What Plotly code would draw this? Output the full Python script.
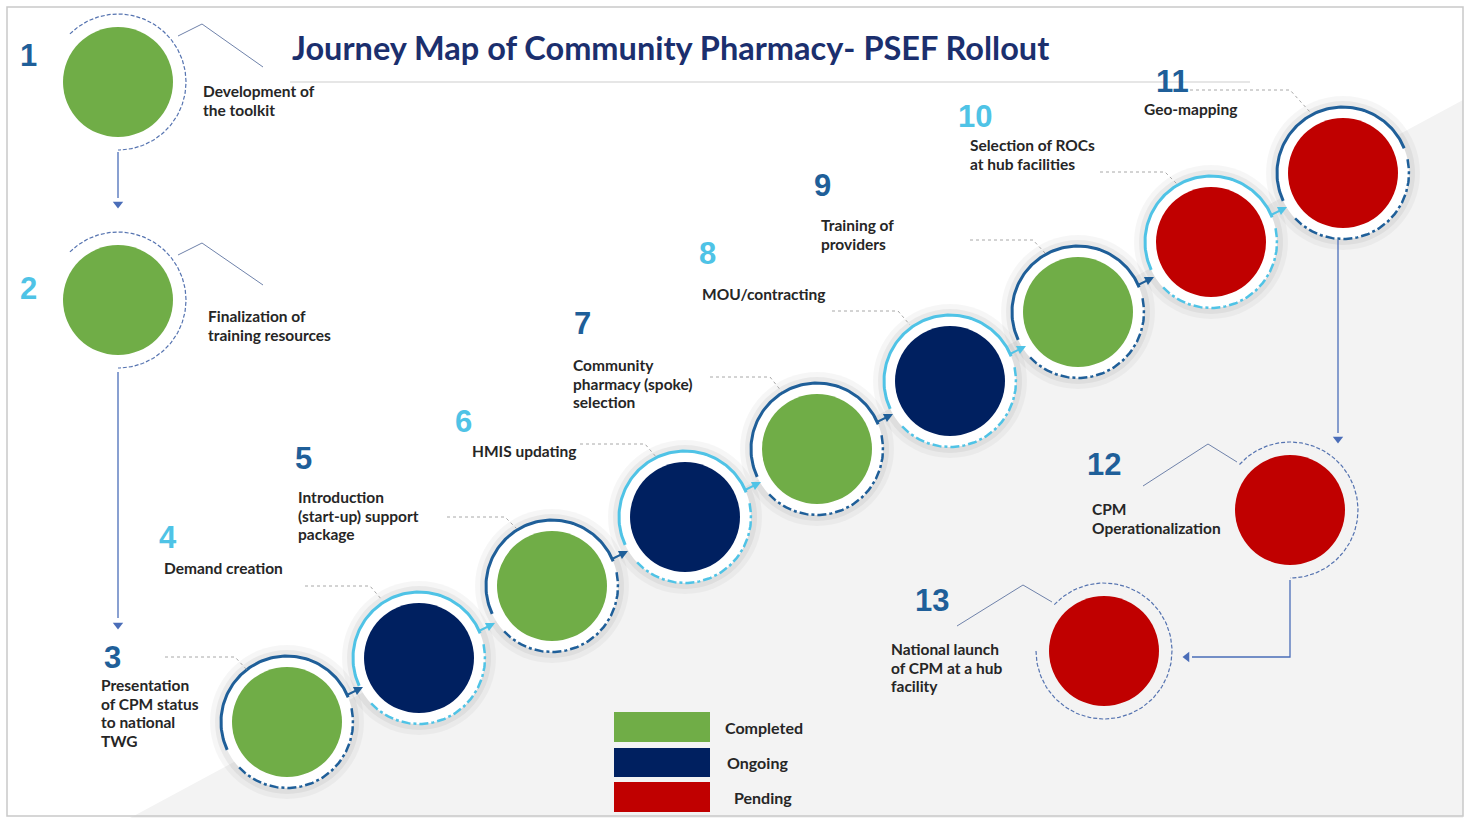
import numpy as np
import plotly.graph_objects as go

# ---------------- data ----------------
steps = [1, 2, 3, 4, 5, 6, 7, 8, 9, 10, 11, 12, 13]
step_labels = [
    "Development of<br>the toolkit",
    "Finalization of<br>training resources",
    "Presentation<br>of CPM status<br>to national<br>TWG",
    "Demand creation",
    "Introduction<br>(start-up) support<br>package",
    "HMIS updating",
    "Community<br>pharmacy (spoke)<br>selection",
    "MOU/contracting",
    "Training of<br>providers",
    "Selection of ROCs<br>at hub facilities",
    "Geo-mapping",
    "CPM<br>Operationalization",
    "National launch<br>of CPM at a hub<br>facility",
]
step_status = ["Completed", "Completed", "Completed", "Ongoing", "Completed", "Ongoing",
               "Completed", "Ongoing", "Completed", "Pending", "Pending", "Pending", "Pending"]
status_names = ["Completed", "Ongoing", "Pending"]
title_text = "Journey Map of Community Pharmacy- PSEF Rollout"

# ---------------- layout / style ----------------
W, H = 1467, 818
STATUS_COLOR = {"Completed": "#70AD47", "Ongoing": "#002060", "Pending": "#C00000"}
DARK = "#1F5F99"
LIGHT = "#4FC3E6"
node_x = [118, 118, 287, 419, 552, 685, 817, 950, 1078, 1211, 1343, 1290, 1104]
node_y = [82, 300, 722, 658, 586, 517, 449, 381, 312, 242, 173, 510, 651]
num_pos = [(28, 55), (28, 288), (112, 657), (168, 537), (303, 458), (463, 421), (582, 323),
           (707, 253), (822, 185), (975, 116), (1172, 81), (1104, 464), (932, 600)]
num_col = [DARK, LIGHT, DARK, LIGHT, DARK, LIGHT, DARK, LIGHT, DARK, LIGHT, DARK, DARK, DARK]
label_pos = [(202, 91), (207, 316), (100, 685), (163, 568), (297, 497), (471, 451), (572, 365),
             (701, 294), (820, 225), (969, 145), (1143, 109), (1091, 509), (890, 649)]
LINE_H = 18.5
leaders = [
    [(178, 36), (202, 24), (263, 67)],
    [(178, 255), (202, 243), (263, 285)],
    [(165, 657), (235, 657), (248, 671)],
    [(305, 586), (370, 586), (382, 600)],
    [(447, 517), (505, 517), (518, 530)],
    [(580, 444), (645, 444), (657, 458)],
    [(710, 377), (770, 377), (782, 392)],
    [(832, 311), (898, 311), (910, 325)],
    [(970, 240), (1033, 240), (1045, 253)],
    [(1100, 172), (1165, 172), (1178, 185)],
    [(1190, 90), (1290, 90), (1310, 112)],
    [(1143, 486), (1208, 444), (1237, 462)],
    [(957, 626), (1023, 585), (1052, 602)],
]
DIAG = list(range(2, 11))
R_CIRCLE = 55
R_RING = 66


def arc(cx, cy, r, a0, a1, n=90):
    t = np.radians(np.linspace(a0, a1, n))
    return cx + r * np.cos(t), cy - r * np.sin(t)


fig = go.Figure()
shapes = []
annotations = []

# background: frame + grey diagonal area
shapes.append(dict(type="path", path="M 130 818 L 1463 100 L 1463 818 Z",
                   fillcolor="#F3F3F3", line=dict(width=0), layer="below"))
shapes.append(dict(type="rect", x0=7, y0=7, x1=1463, y1=816,
                   line=dict(color="#C9C9C9", width=1.5), layer="above"))
shapes.append(dict(type="line", x0=290, y0=82, x1=1250, y1=82,
                   line=dict(color="#E6E6E6", width=2), layer="below"))

# glow + white halo for the diagonal circles
dx = [node_x[i] for i in DIAG]
dy = [node_y[i] for i in DIAG]
fig.add_trace(go.Scatter(x=dx, y=dy, mode="markers", hoverinfo="skip", showlegend=False,
                         marker=dict(size=154, color="rgba(0,0,0,0.035)", line=dict(width=0))))
fig.add_trace(go.Scatter(x=dx, y=dy, mode="markers", hoverinfo="skip", showlegend=False,
                         marker=dict(size=144, color="rgba(0,0,0,0.05)", line=dict(width=0))))
fig.add_trace(go.Scatter(x=dx, y=dy, mode="markers", hoverinfo="skip", showlegend=False,
                         marker=dict(size=132, color="white", line=dict(width=0))))

# rings of diagonal circles
for k, i in enumerate(DIAG):
    cx, cy = node_x[i], node_y[i]
    col = DARK if k % 2 == 0 else LIGHT
    ax_, ay_ = arc(cx, cy, R_RING, 205, 22)
    fig.add_trace(go.Scatter(x=ax_, y=ay_, mode="lines", hoverinfo="skip", showlegend=False,
                             line=dict(color=col, width=3)))
    bx, by = arc(cx, cy, R_RING, 12, -138)
    fig.add_trace(go.Scatter(x=bx, y=by, mode="lines", hoverinfo="skip", showlegend=False,
                             line=dict(color=col, width=2.5, dash="dashdot")))
    if i < 10:
        annotations.append(dict(x=cx + 76, y=cy - 35, ax=cx + 58, ay=cy - 26,
                                xref="x", yref="y", axref="x", ayref="y", text="",
                                showarrow=True, arrowhead=2, arrowsize=0.9,
                                arrowwidth=2, arrowcolor=col))

# thin rings of circles 1, 2, 12, 13
thin = {0: (135, -90), 1: (135, -90), 11: (138, -90), 12: (137, -180)}
for i, (a0, a1) in thin.items():
    tx, ty = arc(node_x[i], node_y[i], 68, a0, a1, 140)
    fig.add_trace(go.Scatter(x=tx, y=ty, mode="lines", hoverinfo="skip", showlegend=False,
                             line=dict(color="#5573B0", width=1.2, dash="4px,2px")))

# flow arrows
flows = [
    ([118, 118], [152, 198]),
    ([118, 118], [372, 618]),
    ([1338, 1338], [240, 433]),
    ([1290, 1290, 1192], [580, 657, 657]),
]
for fx, fy in flows:
    fig.add_trace(go.Scatter(x=fx, y=fy, mode="lines", hoverinfo="skip", showlegend=False,
                             line=dict(color="#4A6DB8", width=1.3)))
fig.add_trace(go.Scatter(x=[118, 118, 1338], y=[204, 625, 439], mode="markers",
                         hoverinfo="skip", showlegend=False,
                         marker=dict(symbol="triangle-down", size=9, color="#4A6DB8")))
fig.add_trace(go.Scatter(x=[1187], y=[657], mode="markers", hoverinfo="skip", showlegend=False,
                         marker=dict(symbol="triangle-left", size=9, color="#4A6DB8")))

# leader lines
for i, pts in enumerate(leaders):
    lx = [p[0] for p in pts]
    ly = [p[1] for p in pts]
    thin_one = i in (0, 1, 11, 12)
    fig.add_trace(go.Scatter(x=lx, y=ly, mode="lines", hoverinfo="skip", showlegend=False,
                             line=dict(color="#6F82AA" if thin_one else "#A8A8A8",
                                       width=1.0, dash="solid" if thin_one else "dot")))

# status circles
for s in status_names:
    idx = [i for i, st in enumerate(step_status) if st == s]
    fig.add_trace(go.Scatter(
        x=[node_x[i] for i in idx], y=[node_y[i] for i in idx], mode="markers",
        name=s, showlegend=False,
        text=[f"{steps[i]}. {step_labels[i].replace('<br>', ' ')}" for i in idx],
        hoverinfo="text",
        marker=dict(size=2 * R_CIRCLE, color=STATUS_COLOR[s], line=dict(width=0))))

# step numbers
for i, n in enumerate(steps):
    annotations.append(dict(x=num_pos[i][0], y=num_pos[i][1], xref="x", yref="y",
                            text=f"<b>{n}</b>", showarrow=False, xanchor="center", yanchor="middle",
                            borderpad=0,
                            font=dict(family="Liberation Sans, Arial", size=31, color=num_col[i])))

# step labels (one annotation per line for tight line spacing)
for i, lab in enumerate(step_labels):
    for j, line in enumerate(lab.split("<br>")):
        annotations.append(dict(x=label_pos[i][0], y=label_pos[i][1] + j * LINE_H,
                                xref="x", yref="y", text=f"<b>{line}</b>", showarrow=False,
                                xanchor="left", yanchor="middle", align="left", borderpad=0,
                                font=dict(family="Lato, sans-serif", size=15.5, color="#262626")))

# legend
leg_y = [(712, 742), (748, 777), (782, 812)]
leg_tx = [723, 725, 732]
for k, s in enumerate(status_names):
    y0, y1 = leg_y[k]
    shapes.append(dict(type="rect", x0=614, x1=710, y0=y0, y1=y1,
                       fillcolor=STATUS_COLOR[s], line=dict(width=0)))
    annotations.append(dict(x=leg_tx[k], y=(y0 + y1) / 2, xref="x", yref="y",
                            text=f"<b>{s}</b>", showarrow=False, xanchor="left", yanchor="middle",
                            font=dict(family="Lato, sans-serif", size=16, color="#262626")))

# title
annotations.append(dict(x=670, y=47, xref="x", yref="y", text=f"<b>{title_text}</b>",
                        showarrow=False, xanchor="center", yanchor="middle",
                        font=dict(family="Lato, sans-serif", size=32.5, color="#1B2F6E")))

fig.update_layout(
    width=W, height=H, autosize=False,
    margin=dict(l=0, r=0, t=0, b=0, pad=0),
    paper_bgcolor="white", plot_bgcolor="white",
    xaxis=dict(range=[0, W], visible=False, fixedrange=True),
    yaxis=dict(range=[H, 0], visible=False, fixedrange=True),
    shapes=shapes, annotations=annotations,
    hovermode="closest",
)

fig.write_html("out.html", config={"displayModeBar": False},
               post_script="document.body.style.margin='0';document.body.style.overflow='hidden';")
